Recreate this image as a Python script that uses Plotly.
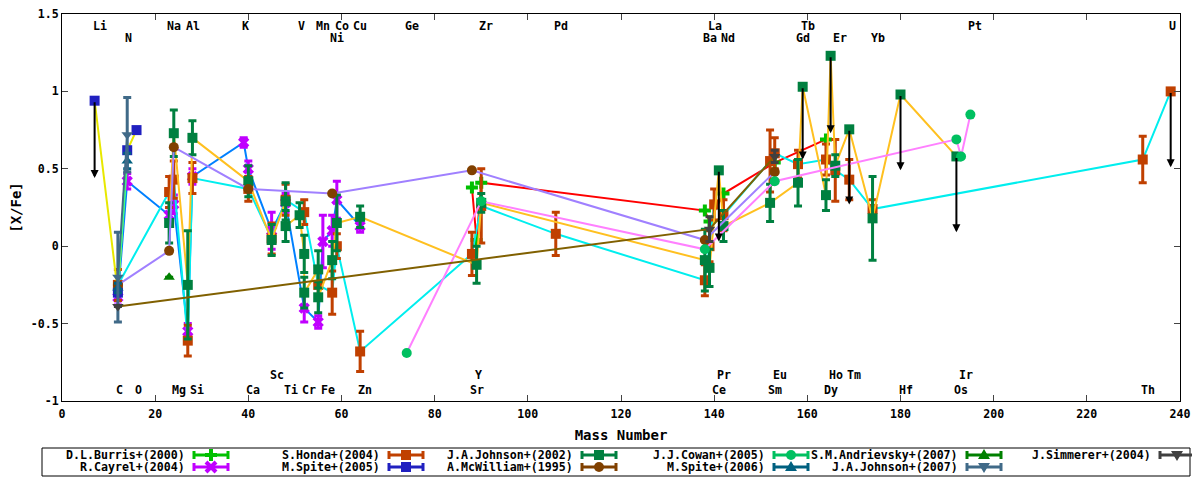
import plotly.graph_objects as go

# ---- element labels (symbol, mass number) ----
top_row1_el = ["Li", "Na", "Al", "K", "V", "Mn", "Co", "Cu", "Ge", "Zr", "Pd", "La", "Tb", "Pt", "U"]
top_row1_mass = [7, 23, 27, 39, 51, 55, 59, 63, 74, 90, 106, 139, 159, 195, 238]
top_row2_el = ["N", "Ni", "Ba", "Nd", "Gd", "Er", "Yb"]
top_row2_mass = [14, 58, 138, 142, 158, 166, 174]
bot_row1_el = ["Sc", "Y", "Pr", "Eu", "Ho", "Tm", "Ir"]
bot_row1_mass = [45, 89, 141, 153, 165, 169, 193]
bot_row2_el = ["C", "O", "Mg", "Si", "Ca", "Ti", "Cr", "Fe", "Zn", "Sr", "Ce", "Sm", "Dy", "Hf", "Os", "Th"]
bot_row2_mass = [12, 16, 24, 28, 40, 48, 52, 56, 64, 88, 140, 152, 164, 180, 192, 232]

y_ticks = [-1, -0.5, 0, 0.5, 1, 1.5]
y_ticktext = ["-1", "-0.5", "0", "0.5", "1", "1.5"]

# ---- abundance data: mass number, [X/Fe], error ----
burris_mass = [88, 89, 90, 138, 139, 142, 153, 164]
burris_xfe = [0.38, 0.04, 0.41, 0.23, 0.16, 0.34, 0.54, 0.69]
burris_err = [None] * 8

cayrel_mass = [12, 14, 23, 24, 27, 28, 39, 40, 45, 48, 52, 55, 56, 58, 59, 64]
cayrel_xfe = [-0.33, 0.42, 0.20, 0.27, -0.55, 0.45, 0.67, 0.50, 0.10, 0.28, -0.40, -0.49, 0.03, 0.10, 0.30, 0.13]
cayrel_err = [0.05, 0.05, 0.05, 0.06, 0.05, 0.05, 0.03, 0.05, 0.12, 0.06, 0.09, 0.04, 0.17, 0.10, 0.12, 0.04]

honda_mass = [12, 23, 24, 27, 28, 40, 45, 48, 52, 55, 58, 59, 64, 88, 90, 106,
              138, 139, 140, 142, 152, 153, 158, 164, 166, 169, 174, 232, 238]
honda_xfe = [-0.25, 0.35, 0.43, -0.61, 0.44, 0.37, 0.05, 0.30, 0.22, -0.25, -0.30, 0.00, -0.68, -0.05, 0.26, 0.08,
             -0.22, 0.00, 0.27, 0.20, 0.55, 0.60, 0.53, 0.56, 0.49, 0.43, 0.24, 0.56, 1.00]
honda_err = [0.10, 0.10, 0.12, 0.10, 0.10, 0.08, 0.10, 0.10, 0.08, 0.10, 0.14, 0.08, 0.13, 0.14, 0.24, 0.14,
             0.10, 0.10, 0.10, 0.10, 0.20, 0.10, 0.09, 0.10, 0.20, 0.13, 0.06, 0.15, None]

spite05_mass = [7, 12, 14, 16]
spite05_xfe = [0.94, -0.30, 0.62, 0.75]
spite05_err = [None] * 4

johnson02_mass = [23, 24, 27, 28, 40, 45, 48, 48, 51, 52, 52, 55, 55, 58, 59, 64, 89, 90,
                  138, 139, 141, 142, 152, 158, 159, 164, 165, 166, 169, 174, 180, 192]
johnson02_xfe = [0.15, 0.73, -0.25, 0.70, 0.42, 0.04, 0.29, 0.13, 0.20, -0.05, -0.30, -0.15, -0.33, -0.09, 0.15, 0.19, -0.12, 0.28,
                 -0.09, -0.14, 0.49, 0.13, 0.28, 0.41, 1.03, 0.33, 1.23, 0.52, 0.755, 0.18, 0.98, 0.58]
johnson02_err = [0.13, 0.15, 0.35, 0.11, 0.10, 0.10, 0.12, 0.10, 0.08, 0.12, 0.10, 0.12, 0.10, 0.12, 0.18, 0.07, 0.12, 0.06,
                 0.20, 0.12, None, 0.10, 0.12, 0.15, None, 0.10, None, 0.07, None, 0.27, None, None]

mcwilliam_mass = [12, 23, 24, 40, 58, 88, 138, 153]
mcwilliam_xfe = [-0.25, -0.03, 0.64, 0.37, 0.34, 0.49, 0.04, 0.48]
mcwilliam_err = [None] * 8

cowan_mass = [74, 90, 138, 153, 192, 193, 195]
cowan_xfe = [-0.69, 0.29, -0.02, 0.42, 0.69, 0.58, 0.85]
cowan_err = [None] * 7

spite06_mass = [12, 14]
spite06_xfe = [-0.27, 0.55]
spite06_err = [0.03, 0.05]

andrievsky_mass = [23]
andrievsky_xfe = [-0.20]
andrievsky_err = [None]

johnson07_mass = [12, 14]
johnson07_xfe = [-0.20, 0.72]
johnson07_err = [0.29, 0.24]

simmerer_mass = [12, 139, 153]
simmerer_xfe = [-0.39, 0.11, 0.58]
simmerer_err = [None, 0.08, 0.04]

# upper limits: mass, measured limit, arrow tip
limit_mass = [7, 141, 159, 165, 169, 180, 192, 238]
limit_from = [0.94, 0.49, 1.03, 1.23, 0.755, 0.98, 0.58, 1.00]
limit_to = [0.44, 0.03, 0.56, 0.73, 0.27, 0.49, 0.09, 0.51]

series = [
    ("D.L.Burris+(2000)", burris_mass, burris_xfe, burris_err, "#ff0000", "#00c000", "cross"),
    ("R.Cayrel+(2004)", cayrel_mass, cayrel_xfe, cayrel_err, "#0080ff", "#c000ff", "x"),
    ("S.Honda+(2004)", honda_mass, honda_xfe, honda_err, "#00eeee", "#c04000", "square"),
    ("M.Spite+(2005)", spite05_mass, spite05_xfe, spite05_err, "#e8e800", "#2020c0", "square"),
    ("J.A.Johnson+(2002)", johnson02_mass, johnson02_xfe, johnson02_err, "#ffc020", "#008040", "square"),
    ("A.McWilliam+(1995)", mcwilliam_mass, mcwilliam_xfe, mcwilliam_err, "#a080ff", "#804000", "circle"),
    ("J.J.Cowan+(2005)", cowan_mass, cowan_xfe, cowan_err, "#ff80ff", "#00c060", "circle"),
    ("M.Spite+(2006)", spite06_mass, spite06_xfe, spite06_err, "#40ff80", "#006080", "triangle-up"),
    ("S.M.Andrievsky+(2007)", andrievsky_mass, andrievsky_xfe, andrievsky_err, "#008000", "#008000", "triangle-up"),
    ("J.A.Johnson+(2007)", johnson07_mass, johnson07_xfe, johnson07_err, "#406a88", "#406a88", "triangle-down"),
    ("J.Simmerer+(2004)", simmerer_mass, simmerer_xfe, simmerer_err, "#806000", "#404040", "triangle-down"),
]

font_family = "DejaVu Sans Mono"
font_size = 11.6

# plot area in page pixels (the page body adds an 8px offset)
PLOT_L, PLOT_R, PLOT_T, PLOT_B = 62, 1180, 14, 401


def px_x(px):
    return (px - PLOT_L) / (PLOT_R - PLOT_L)


def px_y(py):
    return (PLOT_B - py) / (PLOT_B - PLOT_T)


fig = go.Figure()

for name, mass, xfe, err, line_color, point_color, symbol in series:
    fig.add_trace(go.Scatter(x=mass, y=xfe, mode="lines", showlegend=False, hoverinfo="skip",
                             line=dict(color=line_color, width=2)))
    fig.add_trace(go.Scatter(x=mass, y=xfe, mode="markers", showlegend=False, name=name,
                             marker=dict(symbol=symbol, size=10, color=point_color, line=dict(width=0)),
                             error_y=dict(type="data", array=err, visible=True, color=point_color,
                                          thickness=3, width=4)))

# upper limit arrows
for m, y0, y1 in zip(limit_mass, limit_from, limit_to):
    fig.add_annotation(x=m, y=y1, ax=m, ay=y0, xref="x", yref="y", axref="x", ayref="y",
                       text="", showarrow=True, arrowhead=2, arrowsize=0.8, arrowwidth=2,
                       arrowcolor="black", standoff=0)

# element labels
label_font = dict(family=font_family, size=font_size, color="black", weight="bold")
for els, masses, ypos in [(top_row1_el, top_row1_mass, 1.42), (top_row2_el, top_row2_mass, 1.345),
                          (bot_row1_el, bot_row1_mass, -0.835), (bot_row2_el, bot_row2_mass, -0.93)]:
    for el, m in zip(els, masses):
        fig.add_annotation(x=m, y=ypos, xref="x", yref="y", text=el, showarrow=False,
                           xanchor="left", yanchor="middle", xshift=-4, font=label_font)

# key box below the plot, gnuplot style: text right-justified, then an errorbar sample
fig.add_shape(type="rect", xref="paper", yref="paper", x0=px_x(42), x1=px_x(1190),
              y0=px_y(448), y1=px_y(476), line=dict(color="black", width=1), fillcolor="white")
col_text_right = [187, 382, 575, 767, 960, 1153]
row_center = [455, 467]


def key_shape(kind, xa, ya, color, **kw):
    fig.add_shape(type=kind, xref="paper", yref="paper", xsizemode="pixel", ysizemode="pixel",
                  xanchor=xa, yanchor=ya, line=dict(color=color, width=kw.pop("width", 3)), **kw)


for k, (name, _, _, _, _, color, symbol) in enumerate(series):
    col, row = k // 2, k % 2
    tx, ty = px_x(col_text_right[col]), px_y(row_center[row])
    fig.add_annotation(x=tx, y=ty, xref="paper", yref="paper", text=name, showarrow=False,
                       xanchor="right", yanchor="middle", font=label_font)
    sx = px_x(col_text_right[col] + 24)
    key_shape("line", sx, ty, color, x0=-17, x1=17, y0=0, y1=0)
    key_shape("line", sx, ty, color, x0=-17, x1=-17, y0=-4, y1=4)
    key_shape("line", sx, ty, color, x0=17, x1=17, y0=-4, y1=4)
    if symbol == "square":
        key_shape("rect", sx, ty, color, x0=-5, x1=5, y0=-5, y1=5, fillcolor=color, width=0)
    elif symbol == "circle":
        key_shape("circle", sx, ty, color, x0=-5, x1=5, y0=-5, y1=5, fillcolor=color, width=0)
    elif symbol == "triangle-up":
        key_shape("path", sx, ty, color, path="M -6,-4 L 6,-4 L 0,6 Z", fillcolor=color, width=0)
    elif symbol == "triangle-down":
        key_shape("path", sx, ty, color, path="M -6,4 L 6,4 L 0,-6 Z", fillcolor=color, width=0)
    elif symbol == "cross":
        key_shape("line", sx, ty, color, x0=-6, x1=6, y0=0, y1=0, width=4)
        key_shape("line", sx, ty, color, x0=0, x1=0, y0=-6, y1=6, width=4)
    else:
        key_shape("line", sx, ty, color, x0=-5, x1=5, y0=-5, y1=5, width=4)
        key_shape("line", sx, ty, color, x0=-5, x1=5, y0=5, y1=-5, width=4)

fig.update_layout(
    width=1192, height=472,
    margin=dict(l=54, r=20, t=6, b=79, autoexpand=False),
    plot_bgcolor="white", paper_bgcolor="white",
    font=dict(family=font_family, size=font_size, color="black", weight="bold"),
    showlegend=False,
)
fig.update_xaxes(range=[0, 240], tick0=0, dtick=20, ticks="inside", ticklen=6,
                 showline=True, linecolor="black", linewidth=1, mirror="ticks",
                 showgrid=False, zeroline=False, ticklabeloverflow="allow", ticklabelstandoff=2,
                 title=dict(text="Mass Number", standoff=10))
fig.update_yaxes(range=[-1, 1.5], tickvals=y_ticks, ticktext=y_ticktext, ticks="inside", ticklen=6,
                 showline=True, linecolor="black", linewidth=1, mirror="ticks",
                 showgrid=False, zeroline=False, ticklabeloverflow="allow",
                 title=dict(text="[X/Fe]", standoff=6))

fig.write_html("out.html")
